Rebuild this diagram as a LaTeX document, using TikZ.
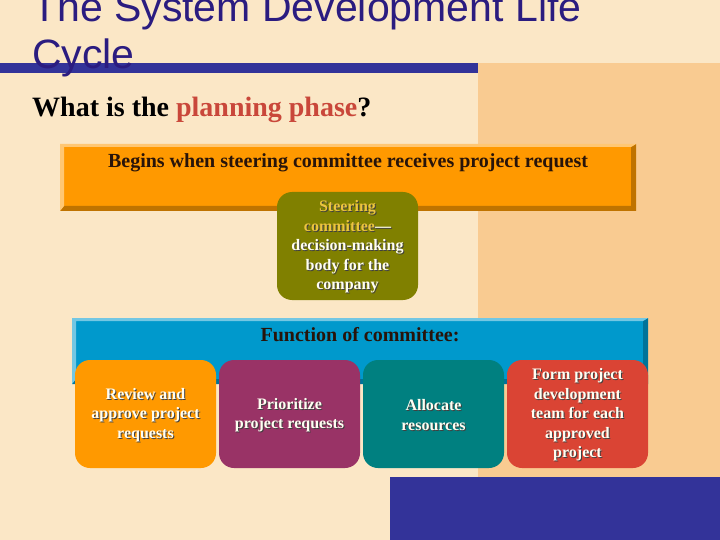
\documentclass[tikz,border=0pt]{standalone}
\usepackage{fontspec}
\setmainfont{Liberation Serif}
\newfontfamily\titrefont{Liberation Sans}
\usetikzlibrary{calc}

\definecolor{creme}{RGB}{251,231,198}
\definecolor{peche}{RGB}{249,203,145}
\definecolor{bleunuit}{RGB}{51,51,153}
\definecolor{titrebleu}{RGB}{43,28,128}
\definecolor{rougephase}{RGB}{201,71,58}
\definecolor{orangevif}{RGB}{255,153,0}
\definecolor{bleuciel}{RGB}{0,153,204}
\definecolor{olivefonce}{RGB}{128,128,0}
\definecolor{prune}{RGB}{153,51,102}
\definecolor{sarcelle}{RGB}{0,128,128}
\definecolor{brique}{RGB}{218,68,52}
\definecolor{jaunetexte}{RGB}{236,196,64}
\definecolor{encre}{RGB}{40,20,10}

\tikzset{
  titre/.style={anchor=base west, inner sep=0pt, text=titrebleu,
    font=\titrefont\fontsize{41}{47}\selectfont},
  textebandeau/.style={anchor=base, inner sep=0pt, text=encre,
    font=\fontsize{20}{24}\selectfont\bfseries},
  boite/.style={rounded corners=15pt, minimum width=141pt, minimum height=108pt,
    inner sep=0pt, align=center, text=white!95!yellow,
    font=\fontsize{16}{19.5}\selectfont\bfseries},
  ombre/.style={boite, text=black!75, fill=none}
}

\begin{document}
\begin{tikzpicture}[x=1pt, y=-1pt]
  \useasboundingbox (0,0) rectangle (720,540);

  % Fond
  \fill[creme] (0,0) rectangle (720,540);
  \fill[peche] (478,63) rectangle (720,540);
  \fill[bleunuit] (0,63) rectangle (478,73);
  \fill[bleunuit] (390,477) rectangle (720,540);

  % Titre
  \node[titre] (titre1) at (32,22) {The System Development Life};
  \node[titre] (titre2) at (32,69) {Cycle};
  \node[anchor=base west, inner sep=0pt, font=\fontsize{28}{31}\selectfont\bfseries]
    (question) at (32,117) {What is the \textcolor{rougephase}{planning phase}?};

  % Bandeaux biseautes
  \foreach \xa/\ya/\xb/\yb/\teinte in {60/144/636/211/orangevif, 72/318/648/384/bleuciel} {
    \fill[\teinte] (\xa,\ya) rectangle (\xb,\yb);
    \fill[\teinte!75!black] (\xa,\yb) -- (\xb,\yb) -- (\xb,\ya)
      -- (\xb-5,\ya+3) -- (\xb-5,\yb-5) -- (\xa+4,\yb-5) -- cycle;
    \fill[\teinte!55!white] (\xa,\ya) -- (\xb,\ya) -- (\xb-5,\ya+3)
      -- (\xa+4,\ya+3) -- (\xa+4,\yb-5) -- (\xa,\yb) -- cycle;
  }
  \node[textebandeau] (debut) at (348,168) {Begins when steering committee receives project request};
  \node[textebandeau] (fonction) at (360,341) {Function of committee:};

  % Comite de pilotage
  \node[boite, fill=olivefonce] (comite) at (347.5,246) {};
  \node[ombre] (ombrecomite) at (348.5,248)
    {Steering\\committee---\\decision-making\\body for the\\company};
  \node[boite, fill=none] (textecomite) at (347.5,247)
    {\textcolor{jaunetexte}{Steering}\\\textcolor{jaunetexte}{committee}---\\decision-making\\body for the\\company};

  % Fonctions du comite
  \foreach \cx/\teinte/\nom/\texte in {
      145.5/orangevif/revue/{Review and\\approve project\\requests},
      289.5/prune/priorite/{Prioritize\\project requests},
      433.5/sarcelle/ressources/{Allocate\\resources},
      577.5/brique/equipe/{Form project\\development\\team for each\\approved\\project}} {
    \node[boite, fill=\teinte] (\nom) at (\cx,414) {};
    \node[ombre] (ombre\nom) at (\cx+1,416) {\texte};
    \node[boite, fill=none] (texte\nom) at (\cx,415) {\texte};
  }
\end{tikzpicture}
\end{document}
